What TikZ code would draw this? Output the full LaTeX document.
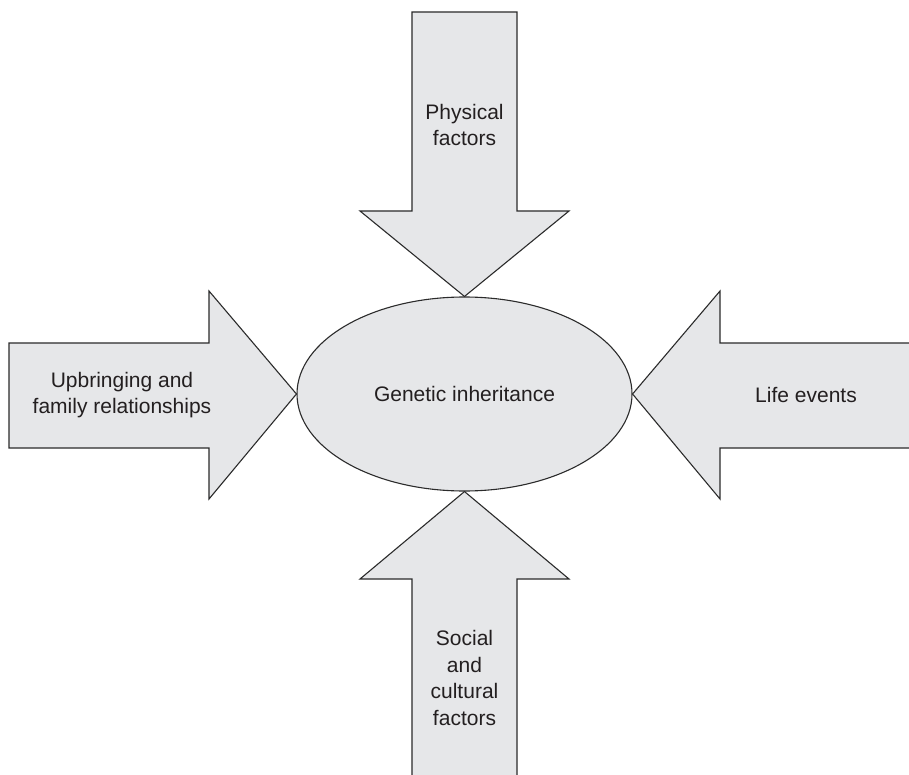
\documentclass[tikz,border=0pt]{standalone}
\usepackage{fontspec}
\setmainfont{Liberation Sans}
\usetikzlibrary{shapes.geometric}
\definecolor{shapefill}{HTML}{E6E7E9}
\definecolor{shapeline}{HTML}{2B2B2B}
\definecolor{txt}{HTML}{231F20}
\begin{document}
\begin{tikzpicture}[x=1pt,y=-1pt,
  bigarrow/.style={draw=shapeline,fill=shapefill,line width=1.1pt,line join=miter},
  lbl/.style={align=center,text=txt,font=\fontsize{21}{26.5}\selectfont,inner sep=0pt}]
\useasboundingbox (0,0) rectangle (909,775);
\clip (0,0) rectangle (909,775);
\fill[white] (0,0) rectangle (909,775);
% central ellipse
\node[ellipse,draw=shapeline,fill=shapefill,line width=1.1pt,minimum width=335pt,minimum height=194pt,inner sep=0pt,lbl] (gen) at (464.5,394) {Genetic inheritance};
% top arrow
\draw[bigarrow] (gen.north) -- (360,211) -- (412,211) -- (412,12) -- (517,12) -- (517,211) -- (569,211) -- cycle;
% bottom arrow
\draw[bigarrow] (gen.south) -- (360,579) -- (412,579) -- (412,790) -- (517,790) -- (517,579) -- (569,579) -- cycle;
% left arrow
\draw[bigarrow] (gen.west) -- (209,291) -- (209,343) -- (9,343) -- (9,448) -- (209,448) -- (209,499) -- cycle;
% right arrow
\draw[bigarrow] (gen.east) -- (720,291) -- (720,343) -- (920,343) -- (920,448) -- (720,448) -- (720,499) -- cycle;
% labels
\node[lbl] (phys) at (464.5,125) {Physical\\factors};
\node[lbl] (upb) at (122,395) {Upbringing and\\family relationships};
\node[lbl] (life) at (806,395) {Life events};
\node[lbl] (soc) at (464.5,678) {Social\\and\\cultural\\factors};
\end{tikzpicture}
\end{document}
